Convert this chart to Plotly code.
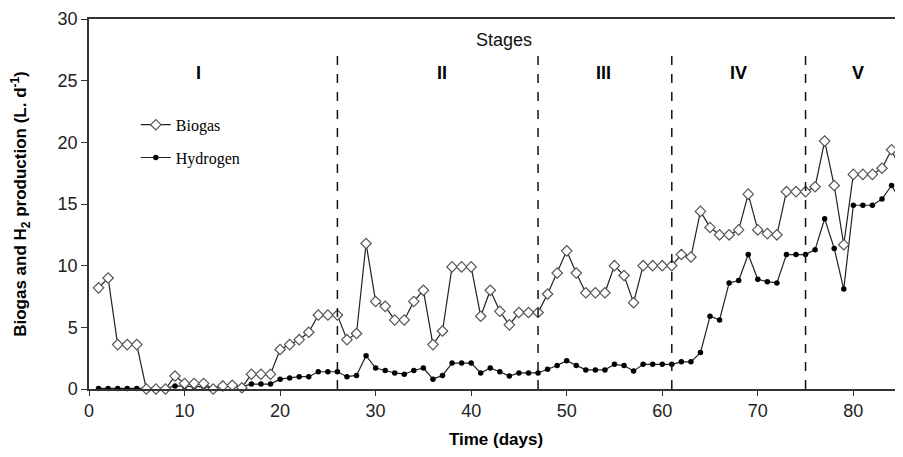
import plotly.graph_objects as go

days = list(range(1, 86))

biogas = [8.2, 9.0, 3.6, 3.6, 3.6, 0.0, 0.0, 0.0, 1.05, 0.45,
          0.45, 0.45, 0.0, 0.25, 0.3, 0.1, 1.2, 1.2, 1.2, 3.2,
          3.6, 4.0, 4.6, 6.0, 6.0, 6.0, 4.0, 4.5, 11.8, 7.1,
          6.7, 5.6, 5.6, 7.1, 8.0, 3.6, 4.7, 9.9, 9.9, 9.9,
          5.9, 8.0, 6.3, 5.2, 6.2, 6.2, 6.2, 7.7, 9.4, 11.2,
          9.4, 7.8, 7.8, 7.8, 10.0, 9.2, 7.0, 10.0, 10.0, 10.0,
          10.0, 10.9, 10.7, 14.4, 13.1, 12.5, 12.5, 12.9, 15.8, 12.9,
          12.6, 12.5, 16.0, 16.0, 16.0, 16.4, 20.1, 16.5, 11.7, 17.4,
          17.4, 17.4, 17.9, 19.4, 17.7]

hydrogen = [0.05, 0.05, 0.05, 0.05, 0.05, 0.05, 0.05, 0.05, 0.25, 0.2,
            0.2, 0.2, 0.1, 0.2, 0.2, 0.2, 0.4, 0.4, 0.4, 0.8,
            0.9, 1.0, 1.0, 1.4, 1.4, 1.4, 1.0, 1.1, 2.7, 1.7,
            1.5, 1.3, 1.2, 1.5, 1.7, 0.8, 1.1, 2.1, 2.1, 2.1,
            1.3, 1.7, 1.4, 1.05, 1.3, 1.3, 1.3, 1.6, 1.9, 2.3,
            1.9, 1.55, 1.55, 1.55, 2.0, 1.9, 1.45, 2.0, 2.0, 2.0,
            2.0, 2.2, 2.2, 2.95, 5.9, 5.6, 8.6, 8.8, 10.9, 8.9,
            8.7, 8.6, 10.9, 10.9, 10.9, 11.3, 13.8, 11.4, 8.1, 14.9,
            14.9, 14.9, 15.4, 16.5, 15.2]

stage_bounds = [26, 47, 61, 75]
stage_labels = ["I", "II", "III", "IV", "V"]
stage_label_x = [11.5, 36.9, 53.8, 68.0, 80.5]
stage_top = 27.6
x_ticks = [0, 10, 20, 30, 40, 50, 60, 70, 80]
y_ticks = [0, 5, 10, 15, 20, 25, 30]

fig = go.Figure()

fig.add_trace(go.Scatter(
    x=days, y=hydrogen, name="Hydrogen", mode="lines+markers",
    line=dict(color="#222", width=1.2),
    marker=dict(symbol="circle", size=5.5, color="#000"),
    legendgroup="h", legendrank=2, cliponaxis=False,
))
fig.add_trace(go.Scatter(
    x=days, y=biogas, name="Biogas", mode="lines+markers",
    line=dict(color="#222", width=1.2),
    marker=dict(symbol="diamond", size=8, color="white",
                line=dict(color="#555", width=1.2)),
    legendgroup="b", legendrank=1, cliponaxis=False,
))

for b in stage_bounds:
    fig.add_shape(type="line", x0=b, x1=b, y0=0, y1=stage_top,
                  xref="x", yref="y",
                  line=dict(color="#111", width=1.5, dash="dash"))

for lab, lx in zip(stage_labels, stage_label_x):
    fig.add_annotation(x=lx, y=25.6, xref="x", yref="y", text=lab,
                       showarrow=False,
                       font=dict(family="Liberation Sans", size=18,
                                 color="#000", weight="bold"))

fig.add_annotation(x=43.4, y=28.3, xref="x", yref="y", text="Stages",
                   showarrow=False,
                   font=dict(family="Liberation Sans", size=18, color="#111"))

# page body has an 8px margin: shrink the figure and shift margins to compensate
fig.update_layout(
    width=895, height=441,
    margin=dict(l=81, r=0, t=11, b=60),
    paper_bgcolor="white", plot_bgcolor="white",
    showlegend=True,
    legend=dict(x=0.0575, y=0.76, xanchor="left", yanchor="top",
                traceorder="grouped", tracegroupgap=9,
                bgcolor="rgba(0,0,0,0)",
                font=dict(family="Liberation Serif", size=16, color="#000")),
    xaxis=dict(range=[0, 85.2], tickvals=x_ticks, showgrid=False, automargin=False,
               zeroline=False, showline=True, linecolor="#333", linewidth=1.5,
               mirror=True, ticks="outside", ticklen=5, tickcolor="#333",
               tickfont=dict(family="Liberation Sans", size=18, color="#222"),
               title=dict(text="<b>Time (days)</b>", standoff=15,
                          font=dict(family="Liberation Sans", size=17, color="#000"))),
    yaxis=dict(range=[0, 30], tickvals=y_ticks, showgrid=False, automargin=False,
               zeroline=False, showline=True, linecolor="#333", linewidth=1.5,
               ticks="outside", ticklen=6, tickcolor="#333",
               tickfont=dict(family="Liberation Sans", size=18, color="#222"),
               title=dict(text="<b>Biogas and H<sub>2</sub> production (L. d<sup>-1</sup>)</b>",
                          standoff=30,
                          font=dict(family="Liberation Sans", size=17, color="#000"))),
)

fig.write_html("out.html")
